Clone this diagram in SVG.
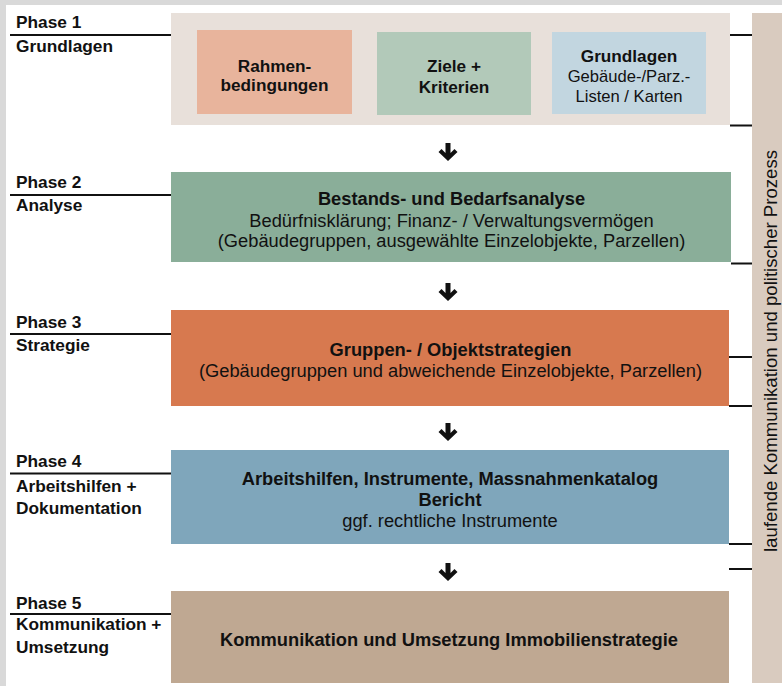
<svg xmlns="http://www.w3.org/2000/svg" width="782" height="686" viewBox="0 0 782 686" font-family="'Liberation Sans', Arimo, Arial, Helvetica, sans-serif">
<defs>
<style>
text{font-family:'Liberation Sans', Arimo, Arial, Helvetica, sans-serif;fill:#111;font-size:18.3px}
.b{font-weight:bold}
.c{text-anchor:middle}
.ph{font-size:17.3px;font-weight:bold}
.sm{font-size:17.2px}
.xs{font-size:16.6px}
.side{font-size:18.6px}
.ln{stroke:#111;stroke-width:2}
.arr{fill:#111}
</style>
<path id="arrow" d="M-2.5,0 h5 v10 l4,-4 l3,3 l-9.5,9 l-9.5,-9 l3,-3 l4,4 z"/>
</defs>
<rect x="0" y="0" width="782" height="686" fill="#ffffff"/>
<rect x="0" y="0" width="782" height="5" fill="#d9d9d9"/>
<rect x="0" y="0" width="6" height="686" fill="#d9d9d9"/>

<g id="sidebar">
<rect x="752" y="13" width="30" height="670" fill="#d9cbbf"/>
<text class="c side" transform="translate(777,351) rotate(-90)">laufende Kommunikation und politischer Prozess</text>
</g>

<g id="phase1">
<rect x="171" y="13" width="559" height="112" fill="#e8e0da"/>
<text class="ph" x="16" y="28">Phase 1</text>
<text class="ph" x="16" y="52">Grundlagen</text>
</g>
<g id="rahmen">
<rect x="197" y="30" width="155" height="84" fill="#e8b49c"/>
<text class="b c sm" x="274.5" y="71.5">Rahmen-</text>
<text class="b c sm" x="274.5" y="91">bedingungen</text>
</g>
<g id="ziele">
<rect x="377" y="32" width="154" height="83" fill="#b2c9b9"/>
<text class="b c sm" x="454" y="72">Ziele +</text>
<text class="b c sm" x="454" y="92.5">Kriterien</text>
</g>
<g id="grundlagen">
<rect x="552" y="32" width="154" height="82" fill="#c2d6e0"/>
<text class="b c sm" x="629" y="61.5">Grundlagen</text>
<text class="c xs" x="629" y="82">Gebäude-/Parz.-</text>
<text class="c xs" x="629" y="101.5">Listen / Karten</text>
</g>

<g id="phase2">
<rect x="171" y="172" width="560" height="90" fill="#8aae99"/>
<text class="ph" x="16" y="188">Phase 2</text>
<text class="ph" x="16" y="211">Analyse</text>
<text class="b c" x="451.5" y="205">Bestands- und Bedarfsanalyse</text>
<text class="c" x="451.5" y="226.5">Bedürfnisklärung; Finanz- / Verwaltungsvermögen</text>
<text class="c" x="451.5" y="247.3">(Gebäudegruppen, ausgewählte Einzelobjekte, Parzellen)</text>
</g>

<g id="phase3">
<rect x="171" y="310" width="558" height="96" fill="#d7794f"/>
<text class="ph" x="16" y="328">Phase 3</text>
<text class="ph" x="16" y="351">Strategie</text>
<text class="b c" x="450.5" y="356">Gruppen- / Objektstrategien</text>
<text class="c" x="450.5" y="377.3">(Gebäudegruppen und abweichende Einzelobjekte, Parzellen)</text>
</g>

<g id="phase4">
<rect x="171" y="450" width="558" height="94" fill="#7fa6bb"/>
<text class="ph" x="16" y="467.3">Phase 4</text>
<text class="ph" x="16" y="491.5">Arbeitshilfen +</text>
<text class="ph" x="16" y="514">Dokumentation</text>
<text class="b c" x="450" y="485">Arbeitshilfen, Instrumente, Massnahmenkatalog</text>
<text class="b c" x="450" y="505.5">Bericht</text>
<text class="c" x="450" y="526.5">ggf. rechtliche Instrumente</text>
</g>

<g id="phase5">
<rect x="171" y="591" width="558" height="92" fill="#bfa892"/>
<text class="ph" x="16" y="608.5">Phase 5</text>
<text class="ph" x="16" y="630">Kommunikation +</text>
<text class="ph" x="16" y="653.3">Umsetzung</text>
<text class="b c" x="449" y="645.7">Kommunikation und Umsetzung Immobilienstrategie</text>
</g>

<g id="connectors">
<line class="ln" x1="10" y1="35" x2="171" y2="35"/>
<line class="ln" x1="10" y1="195" x2="171" y2="195"/>
<line class="ln" x1="10" y1="334" x2="171" y2="334"/>
<line class="ln" x1="10" y1="473.5" x2="171" y2="473.5"/>
<line class="ln" x1="10" y1="614" x2="171" y2="614"/>
<line class="ln" x1="730" y1="35" x2="752" y2="35"/>
<line class="ln" x1="730" y1="125.5" x2="752" y2="125.5"/>
<line class="ln" x1="731" y1="263.5" x2="752" y2="263.5"/>
<line class="ln" x1="729" y1="357" x2="752" y2="357"/>
<line class="ln" x1="729" y1="406" x2="752" y2="406"/>
<line class="ln" x1="729" y1="544" x2="752" y2="544"/>
<line class="ln" x1="729" y1="569" x2="752" y2="569"/>
<use href="#arrow" class="arr" x="448" y="143"/>
<use href="#arrow" class="arr" x="448" y="283"/>
<use href="#arrow" class="arr" x="448" y="423"/>
<use href="#arrow" class="arr" x="448" y="563"/>
</g>
</svg>
